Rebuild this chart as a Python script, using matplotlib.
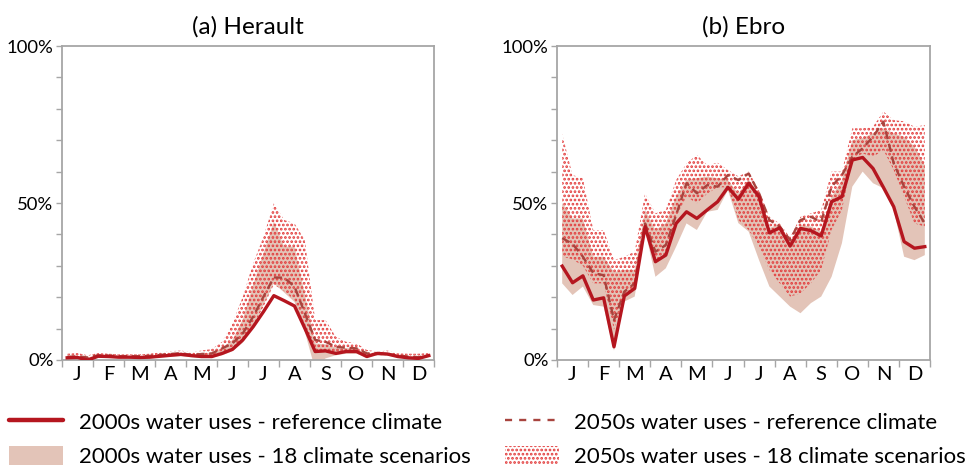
import numpy as np
import matplotlib
matplotlib.use('Agg')
import matplotlib.pyplot as plt
from matplotlib.lines import Line2D
from matplotlib.patches import Patch

plt.rcParams['font.family'] = ['Lato', 'DejaVu Sans']
plt.rcParams['hatch.linewidth'] = 1.3

# Month initials, 3 dekads per month (36 values per series)
meses = ['J', 'F', 'M', 'A', 'M', 'J', 'J', 'A', 'S', 'O', 'N', 'D']

# (a) Herault - share (%)
h_ref2000 = [0.7, 0.8, 0.0, 1.2, 1.1, 0.9, 0.9, 0.8, 0.9, 1.2, 1.5, 1.8,
             1.4, 1.1, 1.1, 2.1, 3.4, 6.4, 10.6, 15.4, 20.5, 18.9, 17.2, 10.1,
             2.7, 2.9, 2.1, 2.7, 2.7, 1.1, 2.1, 1.9, 1.1, 0.7, 0.5, 1.4]
h_ref2050 = [1.0, 1.2, 0.8, 1.5, 1.4, 1.2, 1.2, 1.2, 1.3, 1.6, 1.9, 2.2,
             1.6, 1.9, 2.1, 3.7, 5.3, 8.5, 13.8, 20.2, 26.3, 26.2, 23.4, 14.9,
             6.4, 5.8, 4.2, 3.9, 3.7, 2.1, 2.1, 1.9, 1.4, 1.1, 0.9, 1.4]
h_low2000 = [0.3, 0.4, 0.0, 0.7, 0.7, 0.5, 0.5, 0.5, 0.5, 0.8, 1.0, 1.2,
             0.9, 0.7, 0.7, 1.5, 2.8, 5.5, 11.0, 17.5, 24.4, 21.5, 18.5, 9.0,
             -3.0, 0.5, 1.5, 2.0, 2.0, 0.8, 1.5, 1.4, 0.8, 0.4, 0.3, 1.0]
h_high2000 = [1.2, 1.3, 0.8, 1.6, 1.5, 1.3, 1.3, 1.3, 1.4, 1.7, 2.0, 2.3,
              1.8, 2.0, 2.3, 3.8, 6.4, 13.0, 24.0, 34.0, 44.1, 36.1, 36.1, 21.0,
              5.3, 5.0, 4.0, 3.8, 3.6, 2.0, 2.4, 2.2, 1.6, 1.2, 1.0, 1.6]
h_low2050 = [0.5, 0.6, 0.3, 0.8, 0.8, 0.6, 0.6, 0.6, 0.7, 1.0, 1.2, 1.4,
             1.0, 1.0, 1.2, 2.0, 3.0, 6.0, 11.0, 17.0, 24.0, 22.0, 19.0, 10.0,
             3.0, 3.0, 2.5, 2.5, 2.5, 1.2, 1.5, 1.5, 1.0, 0.6, 0.5, 1.0]
h_high2050 = [2.0, 2.2, 1.5, 2.2, 2.0, 1.8, 1.8, 1.8, 2.0, 2.5, 2.8, 3.0,
              2.5, 3.0, 3.5, 5.8, 11.7, 20.2, 30.8, 39.3, 49.9, 44.6, 43.5, 38.2,
              12.7, 12.7, 7.4, 5.8, 5.3, 3.2, 2.7, 3.0, 2.1, 2.0, 2.0, 2.2]

# (b) Ebro - share (%)
e_ref2000 = [29.9, 24.6, 26.8, 19.1, 19.8, 4.2, 20.4, 22.8, 42.5, 31.3, 33.4, 43.5,
             47.2, 45.1, 47.8, 50.4, 55.0, 51.2, 56.3, 52.0, 40.5, 42.1, 36.3, 41.9,
             41.2, 39.5, 50.4, 52.0, 63.7, 64.5, 61.0, 55.0, 48.8, 37.7, 35.6, 36.1]
e_ref2050 = [38.8, 37.0, 32.9, 27.7, 27.0, 12.7, 21.8, 24.4, 43.5, 34.5, 36.6, 46.2,
             56.3, 53.1, 55.7, 55.2, 58.9, 57.3, 59.4, 53.1, 44.6, 42.5, 38.2, 44.6,
             45.6, 44.0, 55.2, 58.9, 64.7, 67.4, 71.1, 75.9, 62.6, 55.2, 48.8, 43.5]
e_low2000 = [24.4, 20.7, 23.4, 17.5, 17.0, 3.0, 18.6, 20.2, 41.4, 26.5, 29.2, 36.1,
             43.5, 41.4, 47.2, 47.8, 54.1, 43.6, 40.9, 31.8, 23.4, 20.2, 17.0, 14.9,
             18.1, 20.2, 26.5, 37.2, 55.2, 60.0, 56.3, 54.7, 47.8, 32.9, 31.8, 33.4]
e_high2000 = [50.0, 45.1, 45.1, 32.9, 32.9, 28.0, 28.7, 28.7, 47.8, 41.4, 43.6, 52.0,
              57.3, 57.9, 58.4, 57.9, 57.3, 53.0, 57.5, 53.0, 42.0, 43.5, 37.5, 43.0,
              42.5, 41.0, 52.0, 57.3, 70.0, 70.7, 72.2, 73.8, 72.2, 71.1, 68.0, 62.0]
e_low2050 = [33.0, 32.0, 30.0, 24.4, 24.4, 9.6, 20.2, 23.4, 41.4, 31.8, 32.9, 45.6,
             52.0, 49.9, 53.0, 55.0, 55.0, 44.6, 41.4, 36.1, 28.7, 24.4, 20.2, 21.2,
             24.4, 28.7, 41.4, 47.8, 63.7, 65.8, 64.7, 66.9, 60.5, 52.0, 43.5, 42.5]
e_high2050 = [72.0, 58.9, 57.9, 41.4, 41.4, 31.8, 32.9, 34.5, 53.1, 46.7, 47.8, 57.3,
              62.6, 65.3, 62.1, 62.8, 60.5, 58.5, 60.0, 54.0, 45.5, 43.5, 39.0, 45.6,
              46.7, 47.8, 60.0, 60.0, 73.8, 73.8, 74.3, 79.1, 76.4, 76.0, 74.3, 74.8]

# colores
c_ref2000 = '#b5161f'
c_ref2050 = '#a8443e'
c_band2000 = '#e3c4b8'
c_dots = '#e23a3a'
c_spine = '#a6a6a6'

x = (np.arange(36) + 0.5) / 3.0

fig = plt.figure(figsize=(9.74, 4.68), dpi=100)
ax_a = fig.add_axes([62/974, 108/468, 372/974, 314/468])
ax_b = fig.add_axes([557/974, 108/468, 373/974, 314/468])


def dibujar(ax, titulo, ref2000, ref2050, low2000, high2000, low2050, high2050):
    ax.fill_between(x, low2000, high2000, facecolor=c_band2000, edgecolor='none',
                    linewidth=0, zorder=1)
    ax.fill_between(x, low2050, high2050, facecolor='none', edgecolor=c_dots,
                    hatch='....', linewidth=0, zorder=2)
    ax.plot(x, ref2050, color=c_ref2050, lw=1.7, ls=(0, (3.5, 2)), zorder=3)
    ax.plot(x, ref2000, color=c_ref2000, lw=2.4, zorder=4)

    ax.set_xlim(0, 12)
    ax.set_ylim(0, 100)
    ax.set_yticks([0, 50, 100])
    ax.set_yticklabels(['0%', '50%', '100%'])
    ax.set_yticks(np.arange(0, 101, 10), minor=True)
    ax.set_xticks(np.arange(0, 13))
    ax.set_xticklabels([])
    ax.set_xticks(np.arange(12) + 0.5, minor=True)
    ax.set_xticklabels(meses, minor=True)
    ax.tick_params(axis='y', which='both', length=4, width=1, color=c_spine,
                   labelsize=13.3, pad=2)
    ax.tick_params(axis='x', which='major', length=5, width=1, color=c_spine)
    ax.tick_params(axis='x', which='minor', length=0, labelsize=14.5, pad=4)
    for s in ax.spines.values():
        s.set_color(c_spine)
        s.set_linewidth(1.3)
    ax.set_title(titulo, fontsize=17.5, pad=9)


dibujar(ax_a, '(a) Herault', h_ref2000, h_ref2050, h_low2000, h_high2000,
        h_low2050, h_high2050)
dibujar(ax_b, '(b) Ebro', e_ref2000, e_ref2050, e_low2000, e_high2000,
        e_low2050, e_high2050)

handles = [
    Line2D([], [], color=c_ref2000, lw=3.2, solid_capstyle='round'),
    Patch(facecolor=c_band2000, edgecolor='none'),
    Line2D([], [], color=c_ref2050, lw=1.7, ls=(0, (3, 3))),
    Patch(facecolor='none', edgecolor=c_dots, hatch='....', linewidth=0),
]
labels = [
    '2000s water uses - reference climate',
    '2000s water uses - 18 climate scenarios',
    '2050s water uses - reference climate',
    '2050s water uses - 18 climate scenarios',
]
fig.legend(handles, labels, ncol=2, frameon=False, loc='lower left',
           bbox_to_anchor=(9/974, 1/468), fontsize=16, handlelength=2.45,
           handleheight=0.9, handletextpad=0.68, labelspacing=0.6,
           columnspacing=1.55, borderaxespad=0, borderpad=0)

fig.savefig('out.png', dpi=100)
